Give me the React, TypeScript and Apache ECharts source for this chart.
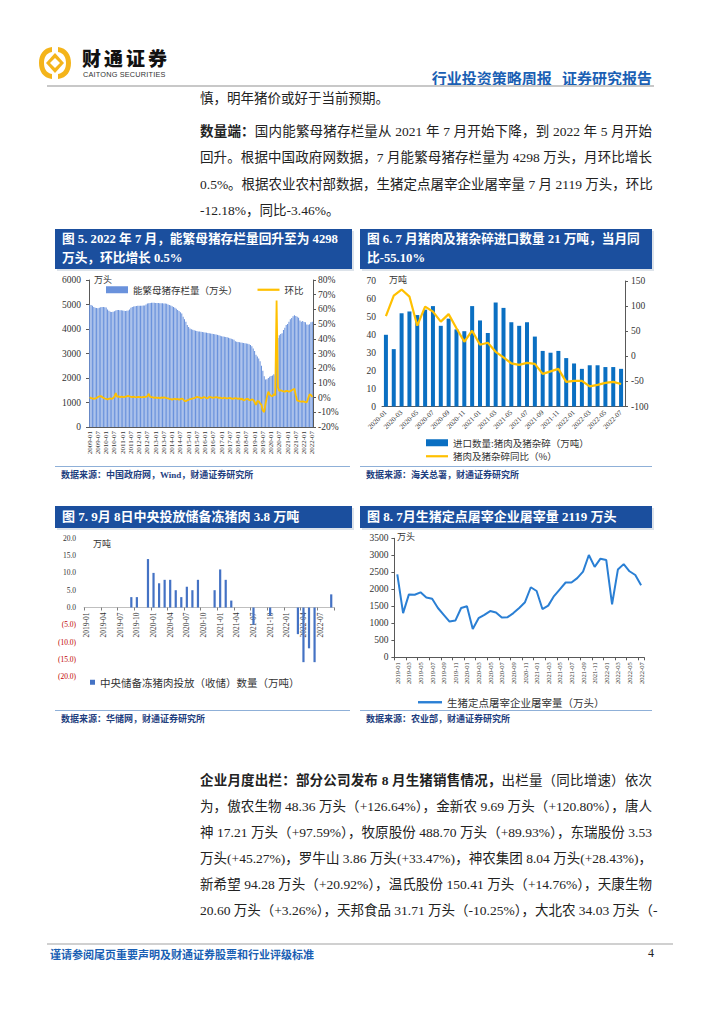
import React, { useEffect, useRef } from "react";
import * as echarts from "echarts";

const SERIF = '"Liberation Serif", "Noto Sans CJK SC", serif';
const CJK = '"Noto Sans CJK SC", sans-serif';
const MIX = '"Liberation Serif", "Noto Sans CJK SC", serif';

function monthLabels(y0: number, m0: number, n: number): string[] {
  const out: string[] = [];
  for (let i = 0; i < n; i++) {
    const t = y0 * 12 + (m0 - 1) + i;
    const y = Math.floor(t / 12);
    const m = (t % 12) + 1;
    out.push(`${y}-${m < 10 ? "0" + m : m}`);
  }
  return out;
}

// ---------- Fig 5: 能繁母猪存栏量 (万头) & 环比 (%) ----------
const sowMonths = monthLabels(2009, 1, 163);
const sowStock = [
  4990, 4980, 4950, 4900, 4870, 4860, 4850, 4870, 4890, 4900, 4900, 4890,
  4880, 4800, 4750, 4700, 4690, 4700, 4720, 4760, 4780, 4780, 4770, 4770,
  4760, 4740, 4730, 4740, 4760, 4800, 4870, 4900, 4920, 4930, 4940, 4950,
  4950, 4950, 4950, 4960, 4960, 5000, 5040, 5050, 5060, 5070, 5070, 5070,
  5060, 5060, 5060, 5050, 5050, 5050, 5040, 5040, 5030, 5000, 4980, 4960,
  4930, 4900, 4870, 4830, 4780, 4730, 4680, 4630, 4500, 4400, 4300, 4160,
  4080, 4020, 3990, 3970, 3950, 3930, 3920, 3900, 3900, 3890, 3880, 3870,
  3860, 3850, 3840, 3830, 3820, 3810, 3800, 3790, 3780, 3760, 3740, 3720,
  3700, 3690, 3680, 3670, 3660, 3640, 3620, 3600, 3580, 3560, 3500, 3480,
  3470, 3460, 3450, 3440, 3430, 3420, 3410, 3400, 3380, 3350, 3300, 3200,
  3100, 2950, 2880, 2800, 2680, 2500, 2300, 2070, 1940, 1950, 2000, 2050,
  2080, 2100, 2150, 2100, 3390, 3630, 3750, 3800, 3822, 3960, 4050, 4161,
  4202, 4300, 4400, 4450, 4520, 4564, 4533, 4500, 4459, 4348, 4296, 4329,
  4290, 4274, 4185, 4177, 4192, 4277, 4298,
];
const sowMoM = [
  0.2, -0.4, -0.6, -0.8, -0.5, -0.3, 0.4, 0.8, 1.0, 0.5, -0.2, -0.6,
  -0.9, -1.2, -0.8, -0.5, -1.0, -0.3, 0.6, 3.1, 0.4, 0.9, 0.3, 0.7,
  0.5, 0.3, 0.6, 0.9, 1.2, 0.8, 0.5, 0.4, 0.6, 0.3, 0.2, 0.5,
  0.4, 0.3, 0.2, 0.5, 0.3, 0.6, 0.9, 2.6, 0.5, 0.3, 0.1, -0.2,
  0.2, -0.3, 0.0, -0.4, 0.1, -0.2, 0.2, 0.0, -0.3, -0.5, -0.8, -1.0,
  -1.5, -0.9, -0.8, -1.2, -0.9, -1.4, -1.0, -0.6, -1.1, -2.2, -2.4, -1.8,
  -1.5, -1.0, -0.8, -0.5, -0.3, 0.0, 0.5, 0.3, 0.2, -0.4, -0.2, 0.4,
  0.1, -0.5, -0.3, 0.4, 0.3, 0.0, -0.1, 0.2, 0.3, 0.1, -0.2, 0.0,
  -0.3, -0.5, 0.1, -0.4, -0.6, -0.3, -0.2, -0.5, -0.8, -0.6, -0.4, -0.5,
  -0.9, -0.4, -1.4, -0.6, -2.0, -1.5, -0.9, -0.8, -1.6, -1.8, -1.2, -1.5,
  -3.0, -5.0, -2.3, -2.5, -4.0, -5.0, -8.9, -9.8, -4.0, 0.5, 4.0, 2.0,
  1.2, 1.0, 2.4, 1.5, 66.0, 7.0, 4.5, 5.0, 4.6, 4.3, 4.0, 4.6,
  4.5, 4.0, 4.4, 5.0, 5.5, 6.0, 1.5, -2.0, -2.2, -2.6, -2.8, -2.5,
  -2.8, -3.0, -3.2, -0.5, 2.3, 1.8, 0.5,
];

// ---------- Fig 6: 进口数量 (万吨) & 同比 (%) ----------
const importMonths = monthLabels(2020, 1, 31);
const importVolume = [
  40, 32, 52, 53, 51, 54, 56, 45, 49, 43, 42, 56, 48, 41, 58, 55,
  47, 45, 47, 39, 31, 30, 31, 27, 24, 21, 23, 23, 22, 22, 21,
];
const importYoY = [
  80, 121, 133, 119, 61, 99, 89, 69, 84, 56, 29, 51, 23, 27, 9, -2,
  -14, -17, -13, -15, -35, -30, -25, -51, -49, -49, -60, -57, -53, -51, -55.1,
];

// ---------- Fig 7: 中央储备冻猪肉投放(收储)数量 (万吨) ----------
const reserveMonths = monthLabels(2019, 1, 45);
const reserveValues = [
  null, null, null, null, null, null, null, null, 3, 3, null, 14,
  10, 7, 8, 8, 5, 3, 6, 5, 8, null, null, 5,
  11, 8, 2, null, null, null, -5, null, null, -2.4, null, null,
  null, null, -7.7, -15.8, -11.8, -15.8, null, null, 3.8,
];

// ---------- Fig 8: 生猪定点屠宰企业屠宰量 (万头) ----------
const slaughterMonths = monthLabels(2019, 1, 43);
const slaughterValues = [
  2441, 1300, 1850, 1840, 1910, 1760, 1720, 1450, 1250, 1050, 1080, 1450,
  1500, 830, 1150, 1250, 1360, 1320, 1170, 1180, 1300, 1450, 1620, 2060,
  1950, 1420, 1520, 1800, 2000, 2200, 2200, 2330, 2520, 3010, 2660, 2900,
  2860, 1560, 2580, 2740, 2530, 2420, 2119,
];

const AX = "#595959";
const TXT = "#333";
const LINE_ICON = "path://M0,0 L24,0 L24,2.4 L0,2.4 Z";
const plain = (v: number) => String(v);

const opt5: any = {
  animation: false,
  grid: { left: 34, right: 42, top: 12, bottom: 41 },
  legend: {
    left: 51, top: 17, itemWidth: 22, itemHeight: 7, itemGap: 20, padding: 0,
    textStyle: { fontFamily: CJK, fontSize: 9.5, color: TXT },
    data: [
      { name: "能繁母猪存栏量（万头）", icon: "rect" },
      { name: "环比", icon: LINE_ICON },
    ],
  },
  graphic: [
    { type: "text", left: 39, top: 7, style: { text: "万头", font: `9px ${CJK}`, fill: TXT } },
  ],
  xAxis: {
    type: "category", data: sowMonths,
    axisLine: { lineStyle: { color: AX } },
    axisTick: { show: false },
    axisLabel: { interval: 5, rotate: 90, fontFamily: SERIF, fontSize: 7, color: TXT, margin: 4 },
  },
  yAxis: [
    {
      type: "value", min: 0, max: 6000, interval: 1000,
      axisLine: { show: true, lineStyle: { color: AX } },
      axisTick: { show: true, length: 3, lineStyle: { color: AX } },
      splitLine: { show: false },
      axisLabel: { fontFamily: SERIF, fontSize: 9.5, color: TXT, margin: 8, formatter: plain },
    },
    {
      type: "value", min: -20, max: 80, interval: 10,
      axisLine: { show: true, lineStyle: { color: AX } },
      axisTick: { show: true, length: 3, lineStyle: { color: AX } },
      splitLine: { show: false },
      axisLabel: { fontFamily: SERIF, fontSize: 9.5, color: TXT, margin: 5, formatter: "{value}%" },
    },
  ],
  series: [
    {
      name: "能繁母猪存栏量（万头）", type: "bar", data: sowStock,
      barCategoryGap: "25%", itemStyle: { color: "#6a92dc" },
    },
    {
      name: "环比", type: "line", yAxisIndex: 1, data: sowMoM,
      symbol: "none", lineStyle: { color: "#ffc000", width: 1.8 }, itemStyle: { color: "#ffc000" },
    },
  ],
};

const opt6: any = {
  animation: false,
  grid: { left: 22, right: 35, top: 13, bottom: 61.5 },
  legend: {
    orient: "vertical", left: 66, top: 170, height: 40, padding: 0,
    itemWidth: 22, itemHeight: 7, itemGap: 4,
    textStyle: { fontFamily: CJK, fontSize: 9.5, color: TXT },
    data: [
      { name: "进口数量:猪肉及猪杂碎（万吨）", icon: "rect" },
      { name: "猪肉及猪杂碎同比（%）", icon: LINE_ICON },
    ],
  },
  graphic: [
    { type: "text", left: 29, top: 7, style: { text: "万吨", font: `9px ${CJK}`, fill: TXT } },
  ],
  xAxis: {
    type: "category", data: importMonths,
    axisLine: { lineStyle: { color: AX } },
    axisTick: { show: false },
    axisLabel: { interval: 1, rotate: 45, fontFamily: SERIF, fontSize: 7, color: TXT, margin: 5 },
  },
  yAxis: [
    {
      type: "value", min: 0, max: 70, interval: 10,
      axisLine: { show: false }, axisTick: { show: false }, splitLine: { show: false },
      axisLabel: { fontFamily: SERIF, fontSize: 9.5, color: TXT, margin: 6 },
    },
    {
      type: "value", min: -100, max: 150, interval: 50,
      axisLine: { show: true, lineStyle: { color: AX } },
      axisTick: { show: true, length: 3, lineStyle: { color: AX } },
      splitLine: { show: false },
      axisLabel: { fontFamily: SERIF, fontSize: 9.5, color: TXT, margin: 6 },
    },
  ],
  series: [
    {
      name: "进口数量:猪肉及猪杂碎（万吨）", type: "bar", data: importVolume,
      barWidth: 4, itemStyle: { color: "#0a6fc2" },
    },
    {
      name: "猪肉及猪杂碎同比（%）", type: "line", yAxisIndex: 1, data: importYoY,
      symbol: "none", lineStyle: { color: "#ffc000", width: 2.2 }, itemStyle: { color: "#ffc000" },
    },
  ],
};

const opt7: any = {
  animation: false,
  grid: { left: 25.5, right: 21, top: 8.3, bottom: 38.3 },
  legend: {
    left: 35, top: 147, itemWidth: 5, itemHeight: 5, padding: 0,
    textStyle: { fontFamily: CJK, fontSize: 10.5, color: TXT },
    data: [{ name: "中央储备冻猪肉投放（收储）数量（万吨）", icon: "rect" }],
  },
  graphic: [
    { type: "text", left: 38, top: 9, style: { text: "万吨", font: `9px ${CJK}`, fill: TXT } },
  ],
  xAxis: {
    type: "category", data: reserveMonths, position: "bottom", offset: -69.2,
    axisLine: { onZero: false, lineStyle: { color: "#bfbfbf" } },
    axisTick: { show: true, interval: 2, length: 3, lineStyle: { color: "#7f7f7f" } },
    axisLabel: { interval: 2, rotate: 90, fontFamily: SERIF, fontSize: 7.5, color: TXT, margin: 5 },
  },
  yAxis: {
    type: "value", min: -20, max: 20, interval: 5,
    axisLine: { show: false }, axisTick: { show: false }, splitLine: { show: false },
    axisLabel: {
      margin: 8,
      formatter: (v: number) => (v < 0 ? `{n|(${(-v).toFixed(1)})}` : `{p|${v.toFixed(1)}}`),
      rich: {
        n: { color: "#c00000", fontFamily: SERIF, fontSize: 7.5 },
        p: { color: TXT, fontFamily: SERIF, fontSize: 7.5 },
      },
    },
  },
  series: [
    {
      name: "中央储备冻猪肉投放（收储）数量（万吨）", type: "bar", data: reserveValues,
      barWidth: 2.2, itemStyle: { color: "#4472c4" },
    },
  ],
};

const opt8: any = {
  animation: false,
  grid: { left: 34.4, right: 16, top: 8.3, bottom: 57.7 },
  legend: {
    left: 58, top: 167, itemWidth: 24, itemHeight: 7, padding: 0,
    textStyle: { fontFamily: CJK, fontSize: 10.5, color: TXT },
    data: [{ name: "生猪定点屠宰企业屠宰量（万头）", icon: LINE_ICON }],
  },
  graphic: [
    { type: "text", left: 37, top: 2, style: { text: "万头", font: `9px ${CJK}`, fill: TXT } },
  ],
  xAxis: {
    type: "category", data: slaughterMonths,
    axisLine: { lineStyle: { color: AX } },
    axisTick: { show: true, interval: 1, length: 3, lineStyle: { color: AX } },
    axisLabel: { interval: 1, rotate: 90, fontFamily: SERIF, fontSize: 6.5, color: TXT, margin: 5 },
  },
  yAxis: {
    type: "value", min: 0, max: 3500, interval: 500,
    axisLine: { show: true, lineStyle: { color: AX } },
    axisTick: { show: true, length: 3, lineStyle: { color: AX } },
    splitLine: { show: false },
    axisLabel: { fontFamily: SERIF, fontSize: 9.5, color: TXT, margin: 6, formatter: plain },
  },
  series: [
    {
      name: "生猪定点屠宰企业屠宰量（万头）", type: "line", data: slaughterValues,
      symbol: "none", lineStyle: { color: "#2a7fd4", width: 2 }, itemStyle: { color: "#2a7fd4" },
    },
  ],
};

function EChart(props: { option: any; left: number; top: number; width: number; height: number }) {
  const ref = useRef<HTMLDivElement>(null);
  useEffect(() => {
    const chart = echarts.init(ref.current as HTMLDivElement, null, { renderer: "svg" });
    chart.setOption(props.option);
    return () => chart.dispose();
  }, [props.option]);
  return (
    <div
      ref={ref}
      style={{ position: "absolute", left: props.left, top: props.top, width: props.width, height: props.height }}
    />
  );
}

const abs = (left: number, top: number, extra: any = {}) => ({ position: "absolute" as const, left, top, ...extra });

function TitleBox(props: { left: number; top: number; width: number; height: number; lines: string[]; size: number }) {
  return (
    <div
      style={{
        ...abs(props.left, props.top),
        width: props.width, height: props.height, background: "#1b4f9e",
        boxShadow: "2px 2px 0 #dde3ea", color: "#fff", fontFamily: MIX, fontWeight: "bold",
        fontSize: props.size, lineHeight: "19px", paddingLeft: 7, boxSizing: "border-box", paddingTop: 1,
      }}
    >
      {props.lines.map((l, i) => (
        <div key={i} style={{ whiteSpace: "nowrap" }}>{l}</div>
      ))}
    </div>
  );
}

function Source(props: { left: number; top: number; width: number; text: string }) {
  return (
    <>
      <div style={{ ...abs(props.left, props.top), width: props.width, height: 1, background: "#8fb0d8" }} />
      <div
        style={{
          ...abs(props.left + 6, props.top + 2), fontFamily: MIX, fontWeight: "bold",
          fontSize: 9, color: "#1f3f7f", whiteSpace: "nowrap",
        }}
      >
        {props.text}
      </div>
    </>
  );
}

const bodyStyle = {
  fontFamily: MIX, fontSize: 13.5, color: "#222", lineHeight: "26px",
  width: 452, whiteSpace: "nowrap" as const,
};

function JLine(props: { top: number; children: any; last?: boolean }) {
  return (
    <div
      style={{
        ...abs(200, props.top), ...bodyStyle,
        textAlign: props.last ? "left" : "justify", textAlignLast: props.last ? "left" : "justify",
      } as any}
    >
      {props.children}
    </div>
  );
}

function Logo() {
  return (
    <svg style={abs(37, 44)} width="36" height="38" viewBox="0 0 36 38">
      <path d="M15 3 C6 4 2 11 2 19 C2 27 6 34 15 35 L15 30 C9 29 7 24 7 19 C7 14 9 9 15 8 Z" fill="#f4b41a" />
      <path d="M21 3 C30 4 34 11 34 19 C34 27 30 34 21 35 L21 30 C27 29 29 24 29 19 C29 14 27 9 21 8 Z" fill="#f4b41a" />
      <path d="M18 9 L27 19 L18 29 L9 19 Z" fill="#f4b41a" />
      <path d="M18 14 L23 19 L18 24 L13 19 Z" fill="#fff" />
    </svg>
  );
}

export default function App() {
  return (
    <div style={{ position: "absolute", left: 0, top: 0, width: 724, height: 1024, background: "#fff", overflow: "hidden" }}>
      <Logo />
      <div style={{ ...abs(82, 48), fontFamily: CJK, fontWeight: 900, fontSize: 19, lineHeight: "20px", letterSpacing: 3, color: "#111", whiteSpace: "nowrap" }}>
        财通证券
      </div>
      <div style={{ ...abs(83, 70), fontFamily: '"Liberation Sans", sans-serif', fontSize: 7.3, lineHeight: "9px", color: "#333", letterSpacing: 0.2, whiteSpace: "nowrap" }}>
        CAITONG SECURITIES
      </div>
      <div style={{ ...abs(0, 67), width: 652, textAlign: "right", fontFamily: CJK, fontWeight: "bold", fontSize: 15, color: "#1a5fb4", whiteSpace: "pre" }}>
        {"行业投资策略周报   证券研究报告"}
      </div>
      <div style={{ ...abs(47, 85), width: 607, height: 2, background: "#c8c8c8" }} />

      <div style={{ ...abs(200, 86), ...bodyStyle }}>慎，明年猪价或好于当前预期。</div>

      <JLine top={119}>
        <b>数量端：</b>国内能繁母猪存栏量从 2021 年 7 月开始下降，到 2022 年 5 月开始
      </JLine>
      <JLine top={145}>回升。根据中国政府网数据，7 月能繁母猪存栏量为 4298 万头，月环比增长</JLine>
      <JLine top={172}>0.5%。根据农业农村部数据，生猪定点屠宰企业屠宰量 7 月 2119 万头，环比</JLine>
      <JLine top={198} last>-12.18%，同比-3.46%。</JLine>

      <TitleBox left={55} top={229} width={297} height={40} size={12.7}
        lines={["图 5.  2022 年 7 月，能繁母猪存栏量回升至为 4298", "万头，环比增长 0.5%"]} />
      <TitleBox left={360} top={229} width={292} height={40} size={12.7}
        lines={["图 6.  7 月猪肉及猪杂碎进口数量 21 万吨，当月同", "比-55.10%"]} />

      <EChart option={opt5} left={55} top={268} width={300} height={200} />
      <EChart option={opt6} left={360} top={268} width={300} height={200} />

      <Source left={55} top={466} width={295} text="数据来源：中国政府网，Wind，财通证券研究所" />
      <Source left={360} top={466} width={292} text="数据来源：海关总署，财通证券研究所" />

      <TitleBox left={55} top={506} width={297} height={22} size={13}
        lines={["图 7.  9月 8日中央投放储备冻猪肉 3.8 万吨"]} />
      <TitleBox left={360} top={506} width={292} height={22} size={13}
        lines={["图 8.  7月生猪定点屠宰企业屠宰量 2119 万头"]} />

      <EChart option={opt7} left={55} top={530} width={300} height={185} />
      <EChart option={opt8} left={360} top={530} width={300} height={185} />

      <Source left={55} top={710} width={295} text="数据来源：华储网，财通证券研究所" />
      <Source left={360} top={710} width={292} text="数据来源：农业部，财通证券研究所" />

      <JLine top={768}>
        <b>企业月度出栏：部分公司发布 8 月生猪销售情况，</b>出栏量（同比增速）依次
      </JLine>
      <JLine top={794}>为，傲农生物 48.36 万头（+126.64%），金新农 9.69 万头（+120.80%），唐人</JLine>
      <JLine top={820}>神 17.21 万头（+97.59%），牧原股份 488.70 万头（+89.93%），东瑞股份 3.53</JLine>
      <JLine top={846}>万头(+45.27%)，罗牛山 3.86 万头(+33.47%)，神农集团 8.04 万头(+28.43%)，</JLine>
      <JLine top={872}>新希望 94.28 万头（+20.92%），温氏股份 150.41 万头（+14.76%），天康生物</JLine>
      <JLine top={898}>20.60 万头（+3.26%），天邦食品 31.71 万头（-10.25%），大北农 34.03 万头（-</JLine>

      <div style={{ ...abs(47, 943), width: 626, height: 2, background: "#d0d0d0" }} />
      <div style={{ ...abs(50, 946), fontFamily: CJK, fontWeight: "bold", fontSize: 11, color: "#1a5fb4", whiteSpace: "nowrap" }}>
        谨请参阅尾页重要声明及财通证券股票和行业评级标准
      </div>
      <div style={{ ...abs(648, 946), fontFamily: SERIF, fontSize: 12, color: "#222" }}>4</div>
    </div>
  );
}
